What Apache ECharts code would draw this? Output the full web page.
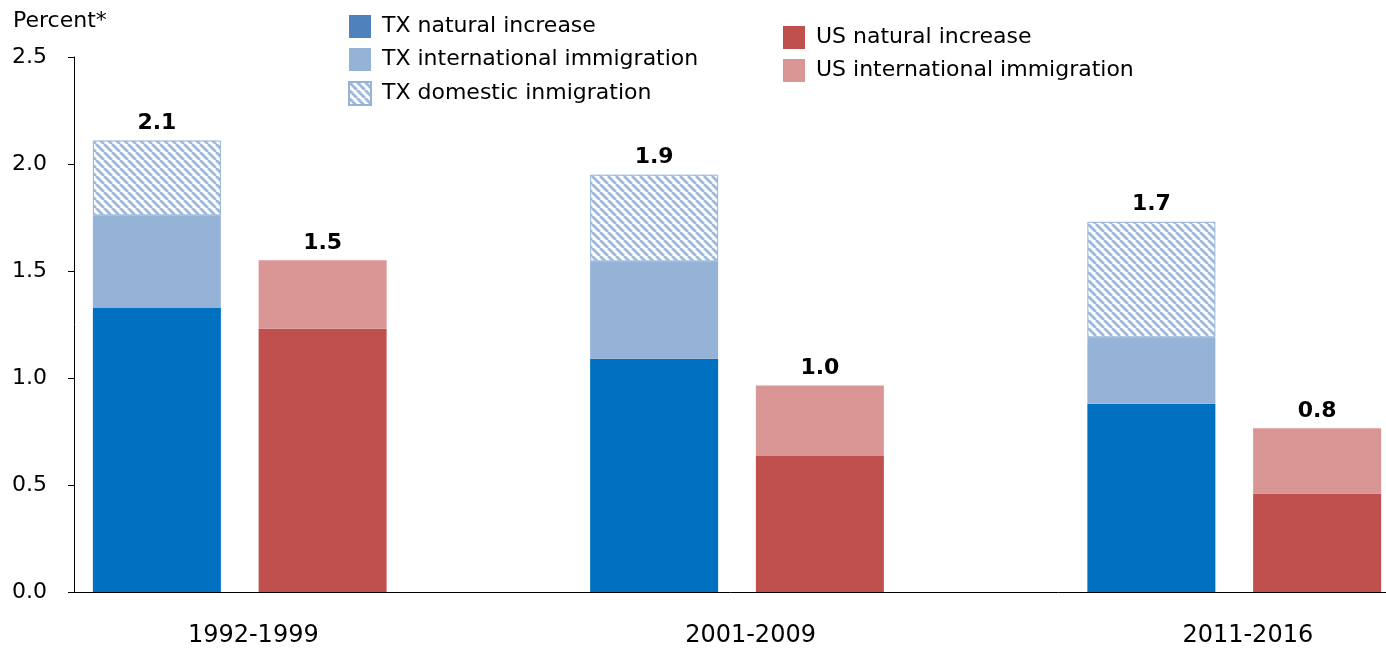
<!DOCTYPE html>
<html>
<head>
<meta charset="utf-8">
<script src="https://cdn.jsdelivr.net/npm/echarts@6/dist/echarts.min.js"></script>
<style>
html,body{margin:0;padding:0;background:#fff;}
#chart{width:1386px;height:649px;}
</style>
</head>
<body>
<div id="chart"></div>
<script>
// ---- data ----
const periods = ['1992-1999', '2001-2009', '2011-2016'];
const txNatural = [1.33, 1.09, 0.88];
const txInternational = [0.43, 0.455, 0.31];
const txDomestic = [0.35, 0.405, 0.54];
const usNatural = [1.23, 0.635, 0.46];
const usInternational = [0.32, 0.33, 0.305];
const txTotalLabels = ['2.1', '1.9', '1.7'];
const usTotalLabels = ['1.5', '1.0', '0.8'];
const yTicks = [0, 0.5, 1.0, 1.5, 2.0, 2.5];

// ---- slots: TX, US, gap per period ----
const slots = [];
periods.forEach((p, i) => {
  slots.push({period: p, kind: 'TX', idx: i});
  slots.push({period: p, kind: 'US', idx: i});
  if (i < periods.length - 1) slots.push({period: p, kind: 'gap', idx: i});
});
const categories = slots.map((s, k) => s.period + ' ' + s.kind + ' ' + k);
function slotData(arr, kind) {
  return slots.map(s => s.kind === kind ? arr[s.idx] : '-');
}

// hatch pattern
function makeHatch() {
  const n = 8;
  const c = document.createElement('canvas');
  c.width = n; c.height = n;
  const ctx = c.getContext('2d');
  ctx.fillStyle = '#ffffff';
  ctx.fillRect(0, 0, n, n);
  ctx.strokeStyle = '#9DB9DC';
  ctx.lineWidth = 2.9;
  for (const k of [-n, 0, n]) {
    ctx.beginPath();
    ctx.moveTo(k, 0);
    ctx.lineTo(k + n, n);
    ctx.stroke();
  }
  return c;
}
const hatch = {image: makeHatch(), repeat: 'repeat'};

const FONT = 'DejaVu Sans';
const chart = echarts.init(document.getElementById('chart'), null, {renderer: 'canvas'});

const totalLabel = (labels) => ({
  show: true,
  position: 'top',
  distance: 6,
  fontFamily: FONT,
  fontSize: 22,
  fontWeight: 'bold',
  color: '#000',
  formatter: p => labels[slots[p.dataIndex].idx]
});

chart.setOption({
  animation: false,
  backgroundColor: '#fff',
  title: {
    text: 'Percent*',
    left: 8, top: 5,
    textStyle: {fontFamily: FONT, fontSize: 22, fontWeight: 'normal', color: '#000'}
  },
  legend: [
    {
      orient: 'vertical', left: 343, top: 10,
      icon: 'rect',
      itemWidth: 22, itemHeight: 23, itemGap: 10,
      textStyle: {fontFamily: FONT, fontSize: 22, color: '#000', padding: [0, 0, 0, 6]},
      data: [
        {name: 'TX natural increase', itemStyle: {color: '#4F81BD'}},
        {name: 'TX international immigration'},
        {name: 'TX domestic inmigration'}
      ]
    },
    {
      orient: 'vertical', left: 778, top: 21,
      icon: 'rect',
      itemWidth: 22, itemHeight: 23, itemGap: 10,
      textStyle: {fontFamily: FONT, fontSize: 22, color: '#000', padding: [0, 0, 0, 6]},
      data: ['US natural increase', 'US international immigration']
    }
  ],
  grid: {left: 74, top: 57, bottom: 57, width: 1326, containLabel: false, outerBoundsMode: 'none'},
  xAxis: {
    type: 'category',
    data: categories,
    axisLine: {show: true, lineStyle: {color: '#000', width: 1}},
    axisTick: {show: false},
    axisLabel: {
      interval: 0,
      align: 'left',
      margin: 32,
      padding: [0, 0, 0, 31],
      fontFamily: FONT, fontSize: 24, color: '#000',
      formatter: (v, i) => slots[i].kind === 'TX' ? slots[i].period : ''
    },
    splitLine: {show: false}
  },
  yAxis: {
    type: 'value',
    min: yTicks[0], max: yTicks[yTicks.length - 1], interval: 0.5,
    axisLine: {show: true, lineStyle: {color: '#000', width: 1}},
    axisTick: {show: true, inside: false, length: 6, lineStyle: {color: '#000'}},
    axisLabel: {margin: 27, fontFamily: FONT, fontSize: 22, color: '#000', formatter: v => v.toFixed(1)},
    splitLine: {show: false}
  },
  series: [
    {name: 'TX natural increase', type: 'bar', stack: 'all', barWidth: 128,
     itemStyle: {color: '#0070C0'}, data: slotData(txNatural, 'TX')},
    {name: 'TX international immigration', type: 'bar', stack: 'all', barWidth: 128,
     itemStyle: {color: '#95B3D7'}, data: slotData(txInternational, 'TX')},
    {name: 'TX domestic inmigration', type: 'bar', stack: 'all', barWidth: 128,
     itemStyle: {color: hatch, borderColor: '#95B3D7', borderWidth: 1},
     label: totalLabel(txTotalLabels), data: slotData(txDomestic, 'TX')},
    {name: 'US natural increase', type: 'bar', stack: 'all', barWidth: 128,
     itemStyle: {color: '#C0504D'}, data: slotData(usNatural, 'US')},
    {name: 'US international immigration', type: 'bar', stack: 'all', barWidth: 128,
     itemStyle: {color: '#D99694'},
     label: totalLabel(usTotalLabels), data: slotData(usInternational, 'US')}
  ]
});
</script>
</body>
</html>
